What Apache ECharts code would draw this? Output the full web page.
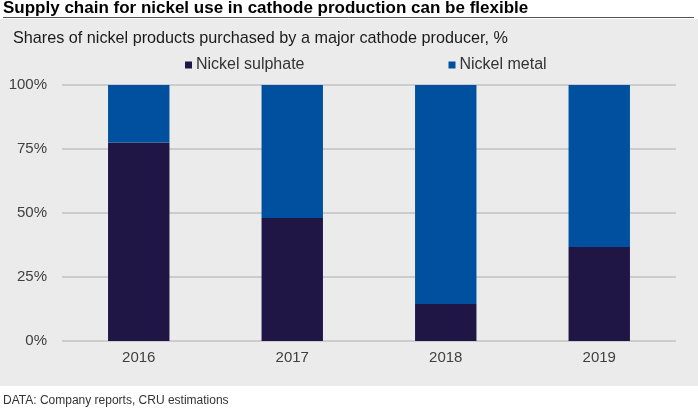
<!DOCTYPE html>
<html>
<head>
<meta charset="utf-8">
<script src="https://cdn.jsdelivr.net/npm/echarts@6/dist/echarts.min.js"></script>
<style>
  html, body { margin: 0; padding: 0; background: #fff; }
  #chart { width: 698px; height: 408px; }
</style>
</head>
<body>
<div id="chart"></div>
<script>
const years = ["2016", "2017", "2018", "2019"];
const sulphate = [77.5, 48, 14.5, 36.7];
const metal = [22.5, 52, 85.5, 63.3];
const yTicks = [0, 25, 50, 75, 100];

const font = "Liberation Sans, Arial, sans-serif";
const chart = echarts.init(document.getElementById("chart"));

chart.setOption({
  animation: false,
  textStyle: { fontFamily: font },
  graphic: [
    // grey panel behind the plot
    {
      type: "rect", z: -10, silent: true,
      shape: { x: 0, y: 19, width: 698, height: 367 },
      style: { fill: "#ebebeb" }
    },
    // rule under the headline
    {
      type: "line", z: -5, silent: true,
      shape: { x1: 3, y1: 17.5, x2: 694, y2: 17.5 },
      style: { stroke: "#555555", lineWidth: 1 }
    }
  ],
  title: [
    {
      text: "Supply chain for nickel use in cathode production can be flexible",
      left: 3, top: 0, padding: 0,
      textStyle: { fontFamily: font, fontSize: 17, fontWeight: "bold", color: "#000" }
    },
    {
      text: "Shares of nickel products purchased by a major cathode producer, %",
      left: 13, top: 31, padding: 0,
      textStyle: { fontFamily: font, fontSize: 16.2, fontWeight: "normal", color: "#1a1a1a" }
    },
    {
      text: "DATA: Company reports, CRU estimations",
      left: 3, top: 395, padding: 0,
      textStyle: { fontFamily: font, fontSize: 12, fontWeight: "normal", color: "#333" }
    }
  ],
  legend: {
    left: 185, top: 57, padding: 0,
    icon: "rect", itemWidth: 7, itemHeight: 7, itemGap: 144,
    textStyle: { fontFamily: font, fontSize: 16, color: "#333", padding: [0, 0, 0, -1] },
    data: ["Nickel sulphate", "Nickel metal"]
  },
  grid: { left: 62, right: 22, top: 85, bottom: 67 },
  xAxis: {
    type: "category",
    data: years,
    axisLine: { show: false },
    axisTick: { show: false },
    axisLabel: { fontSize: 15, color: "#404040", margin: 9 }
  },
  yAxis: {
    type: "value",
    min: yTicks[0], max: yTicks[yTicks.length - 1], interval: 25,
    axisLine: { show: false },
    axisTick: { show: false },
    axisLabel: { fontSize: 15, color: "#404040", margin: 15, formatter: "{value}%" },
    splitLine: { lineStyle: { color: "#cccccc", width: 2 } }
  },
  series: [
    {
      name: "Nickel sulphate", type: "bar", stack: "total",
      barWidth: "40%", data: sulphate,
      itemStyle: { color: "#1f1646" }
    },
    {
      name: "Nickel metal", type: "bar", stack: "total",
      barWidth: "40%", data: metal,
      itemStyle: { color: "#0050a0" }
    }
  ]
});
</script>
</body>
</html>
